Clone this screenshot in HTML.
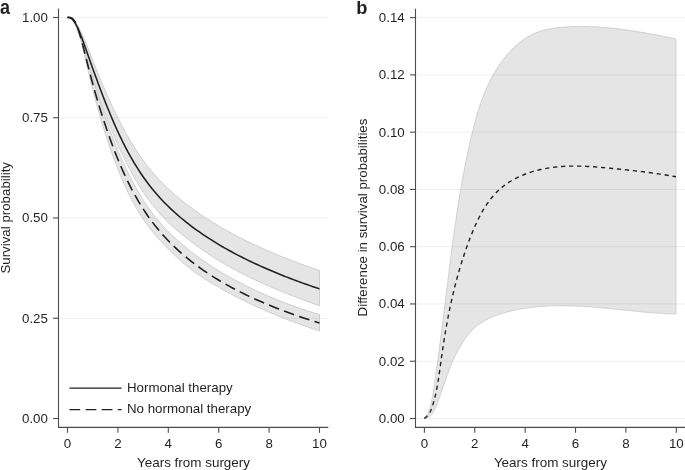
<!DOCTYPE html><html><head><meta charset="utf-8"><style>html,body{margin:0;padding:0;background:#fff;}svg{display:block;will-change:transform;}text{font-family:"Liberation Sans",sans-serif;fill:#231f20;}</style></head><body>
<svg width="685" height="470" viewBox="0 0 685 470">
<rect width="685" height="470" fill="#fff"/>
<path d="M67.50,17.40L67.60,17.40L67.86,17.40L68.12,17.41L68.37,17.42L68.63,17.44L68.89,17.47L69.14,17.50L69.40,17.55L69.66,17.60L69.92,17.67L70.17,17.74L70.43,17.83L70.69,17.93L70.94,18.04L71.20,18.17L71.46,18.30L71.72,18.45L71.97,18.62L72.23,18.79L72.49,18.98L72.75,19.18L73.00,19.39L73.26,19.61L73.52,19.85L73.77,20.10L74.03,20.36L74.29,20.63L74.55,20.92L74.80,21.21L75.06,21.52L75.31,21.84L75.93,22.69L76.55,23.61L77.17,24.59L77.79,25.64L78.41,26.74L79.03,27.89L79.65,29.09L80.27,30.34L80.89,31.63L81.51,32.95L82.13,34.31L82.75,35.71L83.37,37.12L83.99,38.56L84.61,40.03L85.23,41.50L85.85,43.00L86.47,44.51L87.09,46.04L87.71,47.57L88.33,49.12L88.95,50.67L89.57,52.24L90.19,53.80L90.81,55.37L91.43,56.94L92.05,58.51L92.67,60.08L93.29,61.65L93.91,63.22L94.53,64.78L95.15,66.34L95.77,67.89L96.40,69.44L97.02,70.98L97.64,72.51L98.26,74.03L98.88,75.55L99.50,77.06L100.12,78.55L100.74,80.04L101.36,81.52L101.98,82.99L102.60,84.45L103.22,85.91L103.84,87.36L104.46,88.80L105.08,90.23L105.70,91.65L106.32,93.07L106.94,94.48L107.56,95.88L108.18,97.27L108.80,98.65L109.42,100.02L110.04,101.39L110.66,102.74L111.28,104.09L111.90,105.43L112.52,106.75L113.14,108.07L113.76,109.38L114.38,110.68L115.00,111.97L115.62,113.25L116.24,114.52L116.86,115.78L117.48,117.03L118.10,118.27L118.72,119.50L119.34,120.72L119.96,121.94L120.58,123.14L121.20,124.33L121.82,125.51L122.44,126.69L123.06,127.85L123.68,129.00L124.30,130.15L124.92,131.28L125.54,132.41L126.16,133.53L126.78,134.63L127.40,135.73L128.02,136.82L128.64,137.90L129.26,138.97L129.88,140.03L130.50,141.08L131.76,143.18L134.14,147.05L136.51,150.77L138.89,154.35L141.27,157.80L143.64,161.11L146.02,164.28L148.40,167.33L150.77,170.26L153.15,173.08L155.52,175.79L157.90,178.40L160.28,180.92L162.65,183.35L165.03,185.71L167.41,187.99L169.78,190.20L172.16,192.35L174.54,194.44L176.91,196.48L179.29,198.46L181.67,200.39L184.04,202.28L186.42,204.13L188.79,205.93L191.17,207.70L193.55,209.43L195.92,211.13L198.30,212.80L200.68,214.44L203.05,216.04L205.43,217.63L207.81,219.18L210.18,220.70L212.56,222.20L214.94,223.67L217.31,225.12L219.69,226.54L222.07,227.94L224.44,229.31L226.82,230.66L229.19,231.98L231.57,233.28L233.95,234.56L236.32,235.82L238.70,237.06L241.08,238.27L243.45,239.47L245.83,240.65L248.21,241.81L250.58,242.95L252.96,244.08L255.34,245.19L257.71,246.28L260.09,247.36L262.47,248.43L264.84,249.48L267.22,250.52L269.59,251.55L271.97,252.56L274.35,253.56L276.72,254.55L279.10,255.52L281.48,256.49L283.85,257.44L286.23,258.38L288.61,259.31L290.98,260.23L293.36,261.13L295.74,262.03L298.11,262.92L300.49,263.80L302.86,264.66L305.24,265.52L307.62,266.37L309.99,267.21L312.37,268.04L314.75,268.86L317.12,269.68L319.50,270.48L319.50,305.83L317.12,304.99L314.75,304.13L312.37,303.27L309.99,302.40L307.62,301.53L305.24,300.64L302.86,299.75L300.49,298.86L298.11,297.95L295.74,297.05L293.36,296.14L290.98,295.22L288.61,294.29L286.23,293.35L283.85,292.40L281.48,291.44L279.10,290.47L276.72,289.48L274.35,288.48L271.97,287.47L269.59,286.44L267.22,285.41L264.84,284.36L262.47,283.29L260.09,282.21L257.71,281.11L255.34,280.00L252.96,278.88L250.58,277.74L248.21,276.58L245.83,275.40L243.45,274.20L241.08,272.99L238.70,271.76L236.32,270.50L233.95,269.23L231.57,267.93L229.19,266.61L226.82,265.26L224.44,263.89L222.07,262.50L219.69,261.08L217.31,259.63L214.94,258.15L212.56,256.65L210.18,255.11L207.81,253.55L205.43,251.95L203.05,250.32L200.68,248.65L198.30,246.95L195.92,245.21L193.55,243.44L191.17,241.63L188.79,239.81L186.42,237.97L184.04,236.10L181.67,234.20L179.29,232.26L176.91,230.27L174.54,228.23L172.16,226.11L169.78,223.92L167.41,221.64L165.03,219.26L162.65,216.75L160.28,214.15L157.90,211.44L155.52,208.62L153.15,205.68L150.77,202.63L148.40,199.45L146.02,196.13L143.64,192.67L141.27,189.05L138.89,185.29L136.51,181.36L134.14,177.27L131.76,173.02L130.50,170.70L129.88,169.55L129.26,168.38L128.64,167.20L128.02,166.01L127.40,164.81L126.78,163.60L126.16,162.38L125.54,161.14L124.92,159.90L124.30,158.64L123.68,157.37L123.06,156.09L122.44,154.79L121.82,153.49L121.20,152.17L120.58,150.83L119.96,149.49L119.34,148.13L118.72,146.76L118.10,145.38L117.48,143.98L116.86,142.57L116.24,141.15L115.62,139.71L115.00,138.26L114.38,136.79L113.76,135.31L113.14,133.82L112.52,132.31L111.90,130.79L111.28,129.26L110.66,127.71L110.04,126.14L109.42,124.57L108.80,122.98L108.18,121.38L107.56,119.77L106.94,118.14L106.32,116.51L105.70,114.86L105.08,113.20L104.46,111.53L103.84,109.85L103.22,108.16L102.60,106.45L101.98,104.74L101.36,103.01L100.74,101.26L100.12,99.51L99.50,97.74L98.88,95.96L98.26,94.17L97.64,92.37L97.02,90.55L96.40,88.72L95.77,86.88L95.15,85.02L94.53,83.16L93.91,81.28L93.29,79.38L92.67,77.48L92.05,75.56L91.43,73.63L90.81,71.70L90.19,69.75L89.57,67.79L88.95,65.82L88.33,63.84L87.71,61.86L87.09,59.87L86.47,57.88L85.85,55.88L85.23,53.89L84.61,51.90L83.99,49.92L83.37,47.94L82.75,45.98L82.13,44.04L81.51,42.12L80.89,40.22L80.27,38.37L79.65,36.54L79.03,34.77L78.41,33.04L77.79,31.37L77.17,29.77L76.55,28.23L75.93,26.78L75.31,25.41L75.06,24.87L74.80,24.32L74.55,23.79L74.29,23.27L74.03,22.78L73.77,22.31L73.52,21.85L73.26,21.42L73.00,21.02L72.75,20.63L72.49,20.27L72.23,19.93L71.97,19.61L71.72,19.32L71.46,19.05L71.20,18.80L70.94,18.57L70.69,18.37L70.43,18.19L70.17,18.03L69.92,17.89L69.66,17.77L69.40,17.67L69.14,17.59L68.89,17.52L68.63,17.47L68.37,17.44L68.12,17.42L67.86,17.40L67.60,17.40L67.50,17.40Z" fill="#e5e5e5" stroke="none"/>
<path d="M67.50,17.40L67.60,17.40L67.86,17.40L68.12,17.40L68.37,17.40L68.63,17.41L68.89,17.41L69.14,17.42L69.40,17.44L69.66,17.46L69.92,17.48L70.17,17.52L70.43,17.57L70.69,17.62L70.94,17.69L71.20,17.77L71.46,17.86L71.72,17.97L71.97,18.10L72.23,18.24L72.49,18.40L72.75,18.58L73.00,18.78L73.26,19.00L73.52,19.23L73.77,19.49L74.03,19.77L74.29,20.07L74.55,20.40L74.80,20.74L75.06,21.10L75.31,21.50L75.93,22.56L76.55,23.75L77.17,25.08L77.79,26.53L78.41,28.10L79.03,29.78L79.65,31.56L80.27,33.43L80.89,35.39L81.51,37.42L82.13,39.52L82.75,41.66L83.37,43.85L83.99,46.07L84.61,48.32L85.23,50.58L85.85,52.85L86.47,55.12L87.09,57.39L87.71,59.66L88.33,61.92L88.95,64.17L89.57,66.41L90.19,68.64L90.81,70.85L91.43,73.05L92.05,75.23L92.67,77.40L93.29,79.55L93.91,81.68L94.53,83.78L95.15,85.87L95.77,87.95L96.40,90.00L97.02,92.03L97.64,94.04L98.26,96.04L98.88,98.01L99.50,99.97L100.12,101.90L100.74,103.82L101.36,105.72L101.98,107.61L102.60,109.47L103.22,111.32L103.84,113.16L104.46,114.97L105.08,116.78L105.70,118.56L106.32,120.33L106.94,122.09L107.56,123.83L108.18,125.55L108.80,127.26L109.42,128.95L110.04,130.63L110.66,132.29L111.28,133.93L111.90,135.56L112.52,137.17L113.14,138.77L113.76,140.34L114.38,141.91L115.00,143.45L115.62,144.98L116.24,146.50L116.86,148.00L117.48,149.49L118.10,150.96L118.72,152.41L119.34,153.85L119.96,155.28L120.58,156.69L121.20,158.09L121.82,159.47L122.44,160.84L123.06,162.20L123.68,163.54L124.30,164.87L124.92,166.19L125.54,167.49L126.16,168.78L126.78,170.06L127.40,171.33L128.02,172.58L128.64,173.82L129.26,175.05L129.88,176.27L130.50,177.48L131.76,179.90L134.14,184.36L136.51,188.67L138.89,192.83L141.27,196.83L143.64,200.66L146.02,204.33L148.40,207.82L150.77,211.16L153.15,214.33L155.52,217.34L157.90,220.21L160.28,222.97L162.65,225.63L165.03,228.19L167.41,230.67L169.78,233.06L172.16,235.38L174.54,237.63L176.91,239.81L179.29,241.93L181.67,243.99L184.04,246.00L186.42,247.96L188.79,249.87L191.17,251.73L193.55,253.56L195.92,255.34L198.30,257.09L200.68,258.81L203.05,260.49L205.43,262.13L207.81,263.74L210.18,265.32L212.56,266.87L214.94,268.38L217.31,269.87L219.69,271.33L222.07,272.76L224.44,274.16L226.82,275.54L229.19,276.89L231.57,278.22L233.95,279.52L236.32,280.80L238.70,282.05L241.08,283.29L243.45,284.50L245.83,285.69L248.21,286.86L250.58,288.02L252.96,289.15L255.34,290.28L257.71,291.38L260.09,292.47L262.47,293.54L264.84,294.60L267.22,295.63L269.59,296.66L271.97,297.66L274.35,298.66L276.72,299.63L279.10,300.59L281.48,301.53L283.85,302.46L286.23,303.38L288.61,304.27L290.98,305.16L293.36,306.03L295.74,306.88L298.11,307.72L300.49,308.54L302.86,309.34L305.24,310.12L307.62,310.90L309.99,311.66L312.37,312.41L314.75,313.15L317.12,313.87L319.50,314.59L319.50,331.02L317.12,330.21L314.75,329.40L312.37,328.57L309.99,327.74L307.62,326.90L305.24,326.06L302.86,325.20L300.49,324.34L298.11,323.48L295.74,322.61L293.36,321.73L290.98,320.85L288.61,319.96L286.23,319.06L283.85,318.15L281.48,317.23L279.10,316.30L276.72,315.35L274.35,314.39L271.97,313.42L269.59,312.43L267.22,311.42L264.84,310.38L262.47,309.33L260.09,308.26L257.71,307.18L255.34,306.07L252.96,304.96L250.58,303.83L248.21,302.69L245.83,301.54L243.45,300.39L241.08,299.22L238.70,298.04L236.32,296.83L233.95,295.60L231.57,294.36L229.19,293.09L226.82,291.79L224.44,290.47L222.07,289.13L219.69,287.76L217.31,286.37L214.94,284.97L212.56,283.56L210.18,282.15L207.81,280.71L205.43,279.25L203.05,277.75L200.68,276.21L198.30,274.61L195.92,272.95L193.55,271.22L191.17,269.42L188.79,267.56L186.42,265.64L184.04,263.67L181.67,261.64L179.29,259.54L176.91,257.38L174.54,255.16L172.16,252.87L169.78,250.51L167.41,248.09L165.03,245.62L162.65,243.11L160.28,240.53L157.90,237.90L155.52,235.17L153.15,232.36L150.77,229.43L148.40,226.36L146.02,223.14L143.64,219.74L141.27,216.14L138.89,212.32L136.51,208.31L134.14,204.10L131.76,199.69L130.50,197.26L129.88,196.04L129.26,194.81L128.64,193.56L128.02,192.29L127.40,191.01L126.78,189.71L126.16,188.40L125.54,187.07L124.92,185.72L124.30,184.35L123.68,182.97L123.06,181.57L122.44,180.15L121.82,178.72L121.20,177.27L120.58,175.79L119.96,174.30L119.34,172.80L118.72,171.27L118.10,169.73L117.48,168.17L116.86,166.59L116.24,165.00L115.62,163.38L115.00,161.75L114.38,160.10L113.76,158.43L113.14,156.74L112.52,155.04L111.90,153.31L111.28,151.56L110.66,149.80L110.04,148.01L109.42,146.20L108.80,144.38L108.18,142.53L107.56,140.66L106.94,138.78L106.32,136.87L105.70,134.94L105.08,132.99L104.46,131.01L103.84,129.02L103.22,127.00L102.60,124.96L101.98,122.90L101.36,120.81L100.74,118.70L100.12,116.56L99.50,114.39L98.88,112.21L98.26,109.99L97.64,107.75L97.02,105.49L96.40,103.20L95.77,100.88L95.15,98.54L94.53,96.18L93.91,93.79L93.29,91.37L92.67,88.93L92.05,86.47L91.43,83.98L90.81,81.47L90.19,78.95L89.57,76.40L88.95,73.83L88.33,71.25L87.71,68.65L87.09,66.03L86.47,63.40L85.85,60.76L85.23,58.12L84.61,55.48L83.99,52.85L83.37,50.23L82.75,47.65L82.13,45.10L81.51,42.61L80.89,40.17L80.27,37.82L79.65,35.54L79.03,33.37L78.41,31.30L77.79,29.36L77.17,27.55L76.55,25.88L75.93,24.36L75.31,23.00L75.06,22.49L74.80,21.99L74.55,21.52L74.29,21.08L74.03,20.66L73.77,20.28L73.52,19.92L73.26,19.60L73.00,19.30L72.75,19.03L72.49,18.78L72.23,18.56L71.97,18.36L71.72,18.19L71.46,18.04L71.20,17.91L70.94,17.80L70.69,17.70L70.43,17.63L70.17,17.57L69.92,17.52L69.66,17.48L69.40,17.45L69.14,17.43L68.89,17.42L68.63,17.41L68.37,17.40L68.12,17.40L67.86,17.40L67.60,17.40L67.50,17.40Z" fill="#e5e5e5" stroke="none"/>
<line x1="59" y1="17.5" x2="328" y2="17.5" stroke="#000" stroke-opacity="0.065" stroke-width="1"/>
<line x1="59" y1="117.75" x2="328" y2="117.75" stroke="#000" stroke-opacity="0.065" stroke-width="1"/>
<line x1="59" y1="218.0" x2="328" y2="218.0" stroke="#000" stroke-opacity="0.065" stroke-width="1"/>
<line x1="59" y1="318.25" x2="328" y2="318.25" stroke="#000" stroke-opacity="0.065" stroke-width="1"/>
<path d="M67.50,17.40L67.60,17.40L67.86,17.40L68.12,17.41L68.37,17.42L68.63,17.44L68.89,17.47L69.14,17.50L69.40,17.55L69.66,17.60L69.92,17.67L70.17,17.74L70.43,17.83L70.69,17.93L70.94,18.04L71.20,18.17L71.46,18.30L71.72,18.45L71.97,18.62L72.23,18.79L72.49,18.98L72.75,19.18L73.00,19.39L73.26,19.61L73.52,19.85L73.77,20.10L74.03,20.36L74.29,20.63L74.55,20.92L74.80,21.21L75.06,21.52L75.31,21.84L75.93,22.69L76.55,23.61L77.17,24.59L77.79,25.64L78.41,26.74L79.03,27.89L79.65,29.09L80.27,30.34L80.89,31.63L81.51,32.95L82.13,34.31L82.75,35.71L83.37,37.12L83.99,38.56L84.61,40.03L85.23,41.50L85.85,43.00L86.47,44.51L87.09,46.04L87.71,47.57L88.33,49.12L88.95,50.67L89.57,52.24L90.19,53.80L90.81,55.37L91.43,56.94L92.05,58.51L92.67,60.08L93.29,61.65L93.91,63.22L94.53,64.78L95.15,66.34L95.77,67.89L96.40,69.44L97.02,70.98L97.64,72.51L98.26,74.03L98.88,75.55L99.50,77.06L100.12,78.55L100.74,80.04L101.36,81.52L101.98,82.99L102.60,84.45L103.22,85.91L103.84,87.36L104.46,88.80L105.08,90.23L105.70,91.65L106.32,93.07L106.94,94.48L107.56,95.88L108.18,97.27L108.80,98.65L109.42,100.02L110.04,101.39L110.66,102.74L111.28,104.09L111.90,105.43L112.52,106.75L113.14,108.07L113.76,109.38L114.38,110.68L115.00,111.97L115.62,113.25L116.24,114.52L116.86,115.78L117.48,117.03L118.10,118.27L118.72,119.50L119.34,120.72L119.96,121.94L120.58,123.14L121.20,124.33L121.82,125.51L122.44,126.69L123.06,127.85L123.68,129.00L124.30,130.15L124.92,131.28L125.54,132.41L126.16,133.53L126.78,134.63L127.40,135.73L128.02,136.82L128.64,137.90L129.26,138.97L129.88,140.03L130.50,141.08L131.76,143.18L134.14,147.05L136.51,150.77L138.89,154.35L141.27,157.80L143.64,161.11L146.02,164.28L148.40,167.33L150.77,170.26L153.15,173.08L155.52,175.79L157.90,178.40L160.28,180.92L162.65,183.35L165.03,185.71L167.41,187.99L169.78,190.20L172.16,192.35L174.54,194.44L176.91,196.48L179.29,198.46L181.67,200.39L184.04,202.28L186.42,204.13L188.79,205.93L191.17,207.70L193.55,209.43L195.92,211.13L198.30,212.80L200.68,214.44L203.05,216.04L205.43,217.63L207.81,219.18L210.18,220.70L212.56,222.20L214.94,223.67L217.31,225.12L219.69,226.54L222.07,227.94L224.44,229.31L226.82,230.66L229.19,231.98L231.57,233.28L233.95,234.56L236.32,235.82L238.70,237.06L241.08,238.27L243.45,239.47L245.83,240.65L248.21,241.81L250.58,242.95L252.96,244.08L255.34,245.19L257.71,246.28L260.09,247.36L262.47,248.43L264.84,249.48L267.22,250.52L269.59,251.55L271.97,252.56L274.35,253.56L276.72,254.55L279.10,255.52L281.48,256.49L283.85,257.44L286.23,258.38L288.61,259.31L290.98,260.23L293.36,261.13L295.74,262.03L298.11,262.92L300.49,263.80L302.86,264.66L305.24,265.52L307.62,266.37L309.99,267.21L312.37,268.04L314.75,268.86L317.12,269.68L319.50,270.48" fill="none" stroke="#cecece" stroke-width="1"/>
<path d="M67.50,17.40L67.60,17.40L67.86,17.40L68.12,17.42L68.37,17.44L68.63,17.47L68.89,17.52L69.14,17.59L69.40,17.67L69.66,17.77L69.92,17.89L70.17,18.03L70.43,18.19L70.69,18.37L70.94,18.57L71.20,18.80L71.46,19.05L71.72,19.32L71.97,19.61L72.23,19.93L72.49,20.27L72.75,20.63L73.00,21.02L73.26,21.42L73.52,21.85L73.77,22.31L74.03,22.78L74.29,23.27L74.55,23.79L74.80,24.32L75.06,24.87L75.31,25.41L75.93,26.78L76.55,28.23L77.17,29.77L77.79,31.37L78.41,33.04L79.03,34.77L79.65,36.54L80.27,38.37L80.89,40.22L81.51,42.12L82.13,44.04L82.75,45.98L83.37,47.94L83.99,49.92L84.61,51.90L85.23,53.89L85.85,55.88L86.47,57.88L87.09,59.87L87.71,61.86L88.33,63.84L88.95,65.82L89.57,67.79L90.19,69.75L90.81,71.70L91.43,73.63L92.05,75.56L92.67,77.48L93.29,79.38L93.91,81.28L94.53,83.16L95.15,85.02L95.77,86.88L96.40,88.72L97.02,90.55L97.64,92.37L98.26,94.17L98.88,95.96L99.50,97.74L100.12,99.51L100.74,101.26L101.36,103.01L101.98,104.74L102.60,106.45L103.22,108.16L103.84,109.85L104.46,111.53L105.08,113.20L105.70,114.86L106.32,116.51L106.94,118.14L107.56,119.77L108.18,121.38L108.80,122.98L109.42,124.57L110.04,126.14L110.66,127.71L111.28,129.26L111.90,130.79L112.52,132.31L113.14,133.82L113.76,135.31L114.38,136.79L115.00,138.26L115.62,139.71L116.24,141.15L116.86,142.57L117.48,143.98L118.10,145.38L118.72,146.76L119.34,148.13L119.96,149.49L120.58,150.83L121.20,152.17L121.82,153.49L122.44,154.79L123.06,156.09L123.68,157.37L124.30,158.64L124.92,159.90L125.54,161.14L126.16,162.38L126.78,163.60L127.40,164.81L128.02,166.01L128.64,167.20L129.26,168.38L129.88,169.55L130.50,170.70L131.76,173.02L134.14,177.27L136.51,181.36L138.89,185.29L141.27,189.05L143.64,192.67L146.02,196.13L148.40,199.45L150.77,202.63L153.15,205.68L155.52,208.62L157.90,211.44L160.28,214.15L162.65,216.75L165.03,219.26L167.41,221.64L169.78,223.92L172.16,226.11L174.54,228.23L176.91,230.27L179.29,232.26L181.67,234.20L184.04,236.10L186.42,237.97L188.79,239.81L191.17,241.63L193.55,243.44L195.92,245.21L198.30,246.95L200.68,248.65L203.05,250.32L205.43,251.95L207.81,253.55L210.18,255.11L212.56,256.65L214.94,258.15L217.31,259.63L219.69,261.08L222.07,262.50L224.44,263.89L226.82,265.26L229.19,266.61L231.57,267.93L233.95,269.23L236.32,270.50L238.70,271.76L241.08,272.99L243.45,274.20L245.83,275.40L248.21,276.58L250.58,277.74L252.96,278.88L255.34,280.00L257.71,281.11L260.09,282.21L262.47,283.29L264.84,284.36L267.22,285.41L269.59,286.44L271.97,287.47L274.35,288.48L276.72,289.48L279.10,290.47L281.48,291.44L283.85,292.40L286.23,293.35L288.61,294.29L290.98,295.22L293.36,296.14L295.74,297.05L298.11,297.95L300.49,298.86L302.86,299.75L305.24,300.64L307.62,301.53L309.99,302.40L312.37,303.27L314.75,304.13L317.12,304.99L319.50,305.83" fill="none" stroke="#cecece" stroke-width="1"/>
<path d="M67.50,17.40L67.60,17.40L67.86,17.40L68.12,17.40L68.37,17.40L68.63,17.41L68.89,17.41L69.14,17.42L69.40,17.44L69.66,17.46L69.92,17.48L70.17,17.52L70.43,17.57L70.69,17.62L70.94,17.69L71.20,17.77L71.46,17.86L71.72,17.97L71.97,18.10L72.23,18.24L72.49,18.40L72.75,18.58L73.00,18.78L73.26,19.00L73.52,19.23L73.77,19.49L74.03,19.77L74.29,20.07L74.55,20.40L74.80,20.74L75.06,21.10L75.31,21.50L75.93,22.56L76.55,23.75L77.17,25.08L77.79,26.53L78.41,28.10L79.03,29.78L79.65,31.56L80.27,33.43L80.89,35.39L81.51,37.42L82.13,39.52L82.75,41.66L83.37,43.85L83.99,46.07L84.61,48.32L85.23,50.58L85.85,52.85L86.47,55.12L87.09,57.39L87.71,59.66L88.33,61.92L88.95,64.17L89.57,66.41L90.19,68.64L90.81,70.85L91.43,73.05L92.05,75.23L92.67,77.40L93.29,79.55L93.91,81.68L94.53,83.78L95.15,85.87L95.77,87.95L96.40,90.00L97.02,92.03L97.64,94.04L98.26,96.04L98.88,98.01L99.50,99.97L100.12,101.90L100.74,103.82L101.36,105.72L101.98,107.61L102.60,109.47L103.22,111.32L103.84,113.16L104.46,114.97L105.08,116.78L105.70,118.56L106.32,120.33L106.94,122.09L107.56,123.83L108.18,125.55L108.80,127.26L109.42,128.95L110.04,130.63L110.66,132.29L111.28,133.93L111.90,135.56L112.52,137.17L113.14,138.77L113.76,140.34L114.38,141.91L115.00,143.45L115.62,144.98L116.24,146.50L116.86,148.00L117.48,149.49L118.10,150.96L118.72,152.41L119.34,153.85L119.96,155.28L120.58,156.69L121.20,158.09L121.82,159.47L122.44,160.84L123.06,162.20L123.68,163.54L124.30,164.87L124.92,166.19L125.54,167.49L126.16,168.78L126.78,170.06L127.40,171.33L128.02,172.58L128.64,173.82L129.26,175.05L129.88,176.27L130.50,177.48L131.76,179.90L134.14,184.36L136.51,188.67L138.89,192.83L141.27,196.83L143.64,200.66L146.02,204.33L148.40,207.82L150.77,211.16L153.15,214.33L155.52,217.34L157.90,220.21L160.28,222.97L162.65,225.63L165.03,228.19L167.41,230.67L169.78,233.06L172.16,235.38L174.54,237.63L176.91,239.81L179.29,241.93L181.67,243.99L184.04,246.00L186.42,247.96L188.79,249.87L191.17,251.73L193.55,253.56L195.92,255.34L198.30,257.09L200.68,258.81L203.05,260.49L205.43,262.13L207.81,263.74L210.18,265.32L212.56,266.87L214.94,268.38L217.31,269.87L219.69,271.33L222.07,272.76L224.44,274.16L226.82,275.54L229.19,276.89L231.57,278.22L233.95,279.52L236.32,280.80L238.70,282.05L241.08,283.29L243.45,284.50L245.83,285.69L248.21,286.86L250.58,288.02L252.96,289.15L255.34,290.28L257.71,291.38L260.09,292.47L262.47,293.54L264.84,294.60L267.22,295.63L269.59,296.66L271.97,297.66L274.35,298.66L276.72,299.63L279.10,300.59L281.48,301.53L283.85,302.46L286.23,303.38L288.61,304.27L290.98,305.16L293.36,306.03L295.74,306.88L298.11,307.72L300.49,308.54L302.86,309.34L305.24,310.12L307.62,310.90L309.99,311.66L312.37,312.41L314.75,313.15L317.12,313.87L319.50,314.59" fill="none" stroke="#cecece" stroke-width="1"/>
<path d="M67.50,17.40L67.60,17.40L67.86,17.40L68.12,17.40L68.37,17.40L68.63,17.41L68.89,17.42L69.14,17.43L69.40,17.45L69.66,17.48L69.92,17.52L70.17,17.57L70.43,17.63L70.69,17.70L70.94,17.80L71.20,17.91L71.46,18.04L71.72,18.19L71.97,18.36L72.23,18.56L72.49,18.78L72.75,19.03L73.00,19.30L73.26,19.60L73.52,19.92L73.77,20.28L74.03,20.66L74.29,21.08L74.55,21.52L74.80,21.99L75.06,22.49L75.31,23.00L75.93,24.36L76.55,25.88L77.17,27.55L77.79,29.36L78.41,31.30L79.03,33.37L79.65,35.54L80.27,37.82L80.89,40.17L81.51,42.61L82.13,45.10L82.75,47.65L83.37,50.23L83.99,52.85L84.61,55.48L85.23,58.12L85.85,60.76L86.47,63.40L87.09,66.03L87.71,68.65L88.33,71.25L88.95,73.83L89.57,76.40L90.19,78.95L90.81,81.47L91.43,83.98L92.05,86.47L92.67,88.93L93.29,91.37L93.91,93.79L94.53,96.18L95.15,98.54L95.77,100.88L96.40,103.20L97.02,105.49L97.64,107.75L98.26,109.99L98.88,112.21L99.50,114.39L100.12,116.56L100.74,118.70L101.36,120.81L101.98,122.90L102.60,124.96L103.22,127.00L103.84,129.02L104.46,131.01L105.08,132.99L105.70,134.94L106.32,136.87L106.94,138.78L107.56,140.66L108.18,142.53L108.80,144.38L109.42,146.20L110.04,148.01L110.66,149.80L111.28,151.56L111.90,153.31L112.52,155.04L113.14,156.74L113.76,158.43L114.38,160.10L115.00,161.75L115.62,163.38L116.24,165.00L116.86,166.59L117.48,168.17L118.10,169.73L118.72,171.27L119.34,172.80L119.96,174.30L120.58,175.79L121.20,177.27L121.82,178.72L122.44,180.15L123.06,181.57L123.68,182.97L124.30,184.35L124.92,185.72L125.54,187.07L126.16,188.40L126.78,189.71L127.40,191.01L128.02,192.29L128.64,193.56L129.26,194.81L129.88,196.04L130.50,197.26L131.76,199.69L134.14,204.10L136.51,208.31L138.89,212.32L141.27,216.14L143.64,219.74L146.02,223.14L148.40,226.36L150.77,229.43L153.15,232.36L155.52,235.17L157.90,237.90L160.28,240.53L162.65,243.11L165.03,245.62L167.41,248.09L169.78,250.51L172.16,252.87L174.54,255.16L176.91,257.38L179.29,259.54L181.67,261.64L184.04,263.67L186.42,265.64L188.79,267.56L191.17,269.42L193.55,271.22L195.92,272.95L198.30,274.61L200.68,276.21L203.05,277.75L205.43,279.25L207.81,280.71L210.18,282.15L212.56,283.56L214.94,284.97L217.31,286.37L219.69,287.76L222.07,289.13L224.44,290.47L226.82,291.79L229.19,293.09L231.57,294.36L233.95,295.60L236.32,296.83L238.70,298.04L241.08,299.22L243.45,300.39L245.83,301.54L248.21,302.69L250.58,303.83L252.96,304.96L255.34,306.07L257.71,307.18L260.09,308.26L262.47,309.33L264.84,310.38L267.22,311.42L269.59,312.43L271.97,313.42L274.35,314.39L276.72,315.35L279.10,316.30L281.48,317.23L283.85,318.15L286.23,319.06L288.61,319.96L290.98,320.85L293.36,321.73L295.74,322.61L298.11,323.48L300.49,324.34L302.86,325.20L305.24,326.06L307.62,326.90L309.99,327.74L312.37,328.57L314.75,329.40L317.12,330.21L319.50,331.02" fill="none" stroke="#cecece" stroke-width="1"/>
<line x1="319.5" y1="270.48" x2="319.5" y2="305.83" stroke="#cecece" stroke-width="1"/>
<line x1="319.5" y1="314.59" x2="319.5" y2="331.02" stroke="#cecece" stroke-width="1"/>
<path d="M67.50,17.40L67.60,17.40L67.86,17.40L68.12,17.40L68.37,17.40L68.63,17.41L68.89,17.42L69.14,17.43L69.40,17.44L69.66,17.47L69.92,17.50L70.17,17.55L70.43,17.60L70.69,17.67L70.94,17.75L71.20,17.85L71.46,17.97L71.72,18.10L71.97,18.25L72.23,18.43L72.49,18.62L72.75,18.84L73.00,19.08L73.26,19.35L73.52,19.64L73.77,19.96L74.03,20.30L74.29,20.66L74.55,21.06L74.80,21.48L75.06,21.92L75.31,22.38L75.93,23.62L76.55,25.01L77.17,26.54L77.79,28.20L78.41,29.99L79.03,31.90L79.65,33.91L80.27,36.01L80.89,38.20L81.51,40.46L82.13,42.78L82.75,45.14L83.37,47.55L83.99,49.98L84.61,52.44L85.23,54.90L85.85,57.36L86.47,59.82L87.09,62.27L87.71,64.71L88.33,67.13L88.95,69.54L89.57,71.94L90.19,74.31L90.81,76.66L91.43,78.99L92.05,81.29L92.67,83.58L93.29,85.83L93.91,88.07L94.53,90.28L95.15,92.47L95.77,94.63L96.40,96.77L97.02,98.89L97.64,100.99L98.26,103.06L98.88,105.11L99.50,107.14L100.12,109.14L100.74,111.13L101.36,113.10L101.98,115.05L102.60,116.98L103.22,118.89L103.84,120.78L104.46,122.66L105.08,124.51L105.70,126.36L106.32,128.18L106.94,129.99L107.56,131.79L108.18,133.56L108.80,135.32L109.42,137.07L110.04,138.80L110.66,140.51L111.28,142.20L111.90,143.88L112.52,145.54L113.14,147.19L113.76,148.82L114.38,150.43L115.00,152.02L115.62,153.60L116.24,155.17L116.86,156.71L117.48,158.24L118.10,159.76L118.72,161.26L119.34,162.74L119.96,164.21L120.58,165.66L121.20,167.10L121.82,168.52L122.44,169.92L123.06,171.31L123.68,172.69L124.30,174.05L124.92,175.39L125.54,176.72L126.16,178.04L126.78,179.34L127.40,180.63L128.02,181.90L128.64,183.16L129.26,184.40L129.88,185.63L130.50,186.85L131.76,189.28L134.14,193.72L136.51,197.97L138.89,202.04L141.27,205.94L143.64,209.67L146.02,213.25L148.40,216.67L150.77,219.96L153.15,223.12L155.52,226.16L157.90,229.09L160.28,231.91L162.65,234.63L165.03,237.25L167.41,239.79L169.78,242.24L172.16,244.62L174.54,246.92L176.91,249.15L179.29,251.32L181.67,253.42L184.04,255.46L186.42,257.45L188.79,259.39L191.17,261.27L193.55,263.11L195.92,264.90L198.30,266.65L200.68,268.36L203.05,270.03L205.43,271.66L207.81,273.26L210.18,274.81L212.56,276.34L214.94,277.83L217.31,279.29L219.69,280.72L222.07,282.12L224.44,283.49L226.82,284.84L229.19,286.16L231.57,287.45L233.95,288.72L236.32,289.97L238.70,291.19L241.08,292.39L243.45,293.57L245.83,294.73L248.21,295.87L250.58,296.99L252.96,298.09L255.34,299.17L257.71,300.24L260.09,301.28L262.47,302.32L264.84,303.33L267.22,304.33L269.59,305.31L271.97,306.28L274.35,307.23L276.72,308.17L279.10,309.10L281.48,310.01L283.85,310.91L286.23,311.80L288.61,312.67L290.98,313.54L293.36,314.39L295.74,315.23L298.11,316.06L300.49,316.87L302.86,317.68L305.24,318.48L307.62,319.26L309.99,320.04L312.37,320.81L314.75,321.57L317.12,322.31L319.50,323.05" fill="none" stroke="#231f20" stroke-width="1.6" stroke-dasharray="10.7 5.4"/>
<path d="M67.50,17.40L67.60,17.40L67.86,17.40L68.12,17.41L68.37,17.43L68.63,17.46L68.89,17.49L69.14,17.54L69.40,17.60L69.66,17.67L69.92,17.76L70.17,17.87L70.43,17.98L70.69,18.12L70.94,18.27L71.20,18.44L71.46,18.62L71.72,18.82L71.97,19.04L72.23,19.28L72.49,19.53L72.75,19.80L73.00,20.08L73.26,20.39L73.52,20.70L73.77,21.04L74.03,21.39L74.29,21.76L74.55,22.14L74.80,22.54L75.06,22.95L75.31,23.37L75.93,24.45L76.55,25.62L77.17,26.85L77.79,28.16L78.41,29.52L79.03,30.94L79.65,32.41L80.27,33.93L80.89,35.49L81.51,37.09L82.13,38.71L82.75,40.37L83.37,42.05L83.99,43.75L84.61,45.47L85.23,47.20L85.85,48.94L86.47,50.68L87.09,52.44L87.71,54.19L88.33,55.95L88.95,57.71L89.57,59.47L90.19,61.23L90.81,62.99L91.43,64.74L92.05,66.49L92.67,68.24L93.29,69.98L93.91,71.71L94.53,73.44L95.15,75.16L95.77,76.87L96.40,78.58L97.02,80.28L97.64,81.96L98.26,83.65L98.88,85.32L99.50,86.98L100.12,88.64L100.74,90.28L101.36,91.92L101.98,93.54L102.60,95.16L103.22,96.76L103.84,98.36L104.46,99.95L105.08,101.53L105.70,103.09L106.32,104.65L106.94,106.20L107.56,107.74L108.18,109.27L108.80,110.78L109.42,112.29L110.04,113.78L110.66,115.26L111.28,116.74L111.90,118.20L112.52,119.65L113.14,121.08L113.76,122.51L114.38,123.92L115.00,125.33L115.62,126.72L116.24,128.10L116.86,129.46L117.48,130.82L118.10,132.16L118.72,133.49L119.34,134.81L119.96,136.12L120.58,137.41L121.20,138.69L121.82,139.97L122.44,141.22L123.06,142.47L123.68,143.71L124.30,144.93L124.92,146.14L125.54,147.34L126.16,148.53L126.78,149.71L127.40,150.87L128.02,152.02L128.64,153.17L129.26,154.30L129.88,155.42L130.50,156.52L131.76,158.74L134.14,162.80L136.51,166.69L138.89,170.44L141.27,174.03L143.64,177.48L146.02,180.79L148.40,183.96L150.77,187.02L153.15,189.96L155.52,192.79L157.90,195.52L160.28,198.16L162.65,200.71L165.03,203.17L167.41,205.56L169.78,207.87L172.16,210.11L174.54,212.29L176.91,214.41L179.29,216.47L181.67,218.48L184.04,220.43L186.42,222.34L188.79,224.20L191.17,226.01L193.55,227.79L195.92,229.53L198.30,231.23L200.68,232.89L203.05,234.52L205.43,236.12L207.81,237.68L210.18,239.21L212.56,240.72L214.94,242.19L217.31,243.64L219.69,245.06L222.07,246.46L224.44,247.83L226.82,249.18L229.19,250.50L231.57,251.80L233.95,253.08L236.32,254.34L238.70,255.58L241.08,256.80L243.45,258.00L245.83,259.18L248.21,260.34L250.58,261.48L252.96,262.61L255.34,263.72L257.71,264.82L260.09,265.90L262.47,266.97L264.84,268.02L267.22,269.05L269.59,270.08L271.97,271.08L274.35,272.08L276.72,273.06L279.10,274.03L281.48,274.99L283.85,275.94L286.23,276.87L288.61,277.79L290.98,278.71L293.36,279.61L295.74,280.50L298.11,281.38L300.49,282.25L302.86,283.11L305.24,283.96L307.62,284.80L309.99,285.63L312.37,286.46L314.75,287.27L317.12,288.08L319.50,288.88" fill="none" stroke="#231f20" stroke-width="1.55"/>
<path d="M58.5,8.5V427.4H328.3" fill="none" stroke="#4d4d4d" stroke-width="1.1" stroke-linejoin="round"/>
<line x1="53" y1="17.5" x2="58.5" y2="17.5" stroke="#4d4d4d" stroke-width="1.1"/>
<text x="47.9" y="21.90" font-size="13.3" text-anchor="end">1.00</text>
<line x1="53" y1="117.75" x2="58.5" y2="117.75" stroke="#4d4d4d" stroke-width="1.1"/>
<text x="47.9" y="122.15" font-size="13.3" text-anchor="end">0.75</text>
<line x1="53" y1="218.0" x2="58.5" y2="218.0" stroke="#4d4d4d" stroke-width="1.1"/>
<text x="47.9" y="222.40" font-size="13.3" text-anchor="end">0.50</text>
<line x1="53" y1="318.25" x2="58.5" y2="318.25" stroke="#4d4d4d" stroke-width="1.1"/>
<text x="47.9" y="322.65" font-size="13.3" text-anchor="end">0.25</text>
<line x1="53" y1="418.5" x2="58.5" y2="418.5" stroke="#4d4d4d" stroke-width="1.1"/>
<text x="47.9" y="422.90" font-size="13.3" text-anchor="end">0.00</text>
<line x1="67.5" y1="427.4" x2="67.5" y2="432.8" stroke="#4d4d4d" stroke-width="1.1"/>
<text x="67.50" y="448.2" font-size="13.3" text-anchor="middle">0</text>
<line x1="117.9" y1="427.4" x2="117.9" y2="432.8" stroke="#4d4d4d" stroke-width="1.1"/>
<text x="117.90" y="448.2" font-size="13.3" text-anchor="middle">2</text>
<line x1="168.3" y1="427.4" x2="168.3" y2="432.8" stroke="#4d4d4d" stroke-width="1.1"/>
<text x="168.30" y="448.2" font-size="13.3" text-anchor="middle">4</text>
<line x1="218.7" y1="427.4" x2="218.7" y2="432.8" stroke="#4d4d4d" stroke-width="1.1"/>
<text x="218.70" y="448.2" font-size="13.3" text-anchor="middle">6</text>
<line x1="269.1" y1="427.4" x2="269.1" y2="432.8" stroke="#4d4d4d" stroke-width="1.1"/>
<text x="269.10" y="448.2" font-size="13.3" text-anchor="middle">8</text>
<line x1="319.5" y1="427.4" x2="319.5" y2="432.8" stroke="#4d4d4d" stroke-width="1.1"/>
<text x="319.50" y="448.2" font-size="13.3" text-anchor="middle">10</text>
<text x="193.5" y="466.8" font-size="13.45" text-anchor="middle">Years from surgery</text>
<text transform="translate(10.3,217.8) rotate(-90)" font-size="13.3" text-anchor="middle">Survival probability</text>
<line x1="69.5" y1="388.1" x2="121.6" y2="388.1" stroke="#231f20" stroke-width="1.25"/>
<line x1="69.5" y1="409.6" x2="121.6" y2="409.6" stroke="#231f20" stroke-width="1.25" stroke-dasharray="10.7 5.4"/>
<text x="127.0" y="392.3" font-size="13.3">Hormonal therapy</text>
<text x="127.0" y="413.2" font-size="13.3">No hormonal therapy</text>
<text transform="translate(0.1,13.6) scale(0.92,1)" font-size="19.6" font-weight="bold">a</text>
<path d="M424.21,418.41L425.46,417.04L426.55,415.59L427.51,414.05L428.33,412.44L429.05,410.77L429.67,409.05L430.22,407.29L430.70,405.51L431.14,403.71L431.55,401.90L431.93,400.08L432.28,398.26L432.61,396.43L432.92,394.60L433.22,392.76L433.50,390.92L433.77,389.08L434.04,387.23L434.31,385.39L434.58,383.55L434.84,381.70L435.11,379.86L435.37,378.02L435.63,376.18L435.89,374.33L436.15,372.49L436.41,370.65L436.66,368.81L436.92,366.96L437.17,365.12L437.42,363.28L437.67,361.44L437.92,359.59L438.17,357.75L438.42,355.91L438.66,354.07L438.91,352.23L439.16,350.38L439.40,348.54L439.64,346.70L439.88,344.86L440.12,343.02L440.36,341.17L440.60,339.33L440.84,337.49L441.08,335.65L441.32,333.81L441.55,331.97L441.79,330.13L442.02,328.28L442.26,326.44L442.49,324.60L442.72,322.76L442.95,320.92L443.18,319.08L443.42,317.24L443.65,315.40L443.88,313.56L444.11,311.72L444.33,309.88L444.56,308.04L444.79,306.20L445.02,304.36L445.25,302.52L445.47,300.68L445.70,298.84L445.93,297.00L446.15,295.16L446.38,293.32L446.61,291.48L446.83,289.64L447.06,287.80L447.29,285.96L447.51,284.12L447.74,282.29L447.97,280.45L448.19,278.61L448.42,276.77L448.65,274.93L448.88,273.09L449.11,271.26L449.34,269.42L449.57,267.58L449.80,265.74L450.03,263.90L450.26,262.07L450.50,260.23L450.73,258.39L450.97,256.56L451.20,254.72L451.44,252.88L451.68,251.05L451.92,249.21L452.16,247.37L452.41,245.54L452.65,243.70L452.90,241.87L453.14,240.03L453.39,238.20L453.64,236.36L453.89,234.53L454.15,232.69L454.40,230.86L454.66,229.02L454.92,227.19L455.18,225.35L455.45,223.52L455.71,221.69L455.98,219.85L456.25,218.02L456.52,216.19L456.80,214.35L457.07,212.52L457.35,210.69L457.63,208.86L457.92,207.03L458.21,205.19L458.50,203.36L458.79,201.53L459.08,199.70L459.38,197.87L459.68,196.04L459.99,194.21L460.29,192.38L460.60,190.55L460.92,188.72L461.23,186.89L461.55,185.06L461.88,183.23L462.20,181.40L462.53,179.58L462.87,177.75L463.20,175.92L463.54,174.09L463.89,172.27L464.24,170.44L464.59,168.61L464.94,166.79L465.30,164.96L465.66,163.13L466.03,161.31L466.40,159.48L466.78,157.66L467.16,155.83L467.54,154.01L467.93,152.19L468.32,150.36L468.72,148.54L469.12,146.71L469.53,144.89L469.94,143.07L470.35,141.25L470.77,139.42L471.20,137.60L471.63,135.78L472.06,133.96L472.50,132.14L472.95,130.33L473.40,128.51L473.87,126.70L474.33,124.88L474.81,123.08L475.30,121.27L475.79,119.47L476.30,117.67L476.82,115.87L477.34,114.08L477.88,112.29L478.43,110.51L478.99,108.73L479.56,106.96L480.14,105.20L480.74,103.44L481.35,101.68L481.98,99.93L482.62,98.19L483.27,96.46L483.94,94.73L484.63,93.02L485.33,91.30L486.05,89.60L486.79,87.91L487.54,86.22L488.31,84.55L489.10,82.88L489.91,81.23L490.74,79.58L491.59,77.94L492.46,76.32L493.35,74.70L494.26,73.10L495.19,71.51L496.14,69.93L497.12,68.36L498.12,66.81L499.14,65.26L500.19,63.73L501.26,62.22L502.36,60.72L503.48,59.23L504.62,57.76L505.79,56.31L506.99,54.88L508.21,53.47L509.45,52.08L510.72,50.72L512.02,49.38L513.34,48.07L514.68,46.79L516.05,45.54L517.44,44.33L518.86,43.14L520.31,42.00L521.77,40.89L523.27,39.81L524.79,38.78L526.33,37.79L527.90,36.84L529.49,35.94L531.11,35.08L532.76,34.27L534.43,33.50L536.12,32.79L537.84,32.13L539.59,31.52L541.35,30.96L543.14,30.45L544.94,29.97L546.76,29.54L548.60,29.15L550.45,28.80L552.31,28.48L554.18,28.19L556.05,27.94L557.94,27.71L559.82,27.51L561.71,27.34L563.60,27.18L565.49,27.05L567.38,26.93L569.26,26.83L571.14,26.75L573.02,26.68L574.89,26.63L576.76,26.59L578.62,26.56L580.48,26.55L582.34,26.55L584.19,26.57L586.05,26.60L587.90,26.64L589.74,26.69L591.59,26.76L593.43,26.84L595.27,26.93L597.11,27.04L598.95,27.15L600.79,27.28L602.63,27.41L604.46,27.56L606.30,27.72L608.13,27.89L609.96,28.06L611.80,28.25L613.63,28.45L615.47,28.65L617.30,28.87L619.14,29.09L620.97,29.32L622.81,29.56L624.65,29.81L626.49,30.06L628.33,30.32L630.17,30.59L632.02,30.86L633.86,31.14L635.71,31.43L637.56,31.72L639.40,32.02L641.25,32.33L643.09,32.64L644.94,32.96L646.78,33.28L648.62,33.61L650.46,33.94L652.30,34.28L654.14,34.62L655.97,34.96L657.80,35.32L659.63,35.67L661.45,36.03L663.27,36.39L665.09,36.76L666.90,37.13L668.70,37.50L670.51,37.88L672.30,38.26L674.09,38.64L675.88,39.03L675.60,313.98L674.59,313.95L673.58,313.92L672.57,313.89L671.55,313.85L670.54,313.81L669.52,313.77L668.51,313.73L667.49,313.68L666.47,313.63L665.45,313.57L664.43,313.52L663.41,313.46L662.39,313.40L661.36,313.34L660.34,313.27L659.31,313.21L658.29,313.14L657.26,313.06L656.23,312.99L655.20,312.92L654.17,312.84L653.14,312.76L652.11,312.68L651.08,312.59L650.04,312.51L649.01,312.42L647.97,312.34L646.94,312.25L645.90,312.16L644.86,312.06L643.83,311.97L642.79,311.88L641.75,311.78L640.71,311.68L639.67,311.59L638.63,311.49L637.58,311.39L636.54,311.29L635.50,311.19L634.45,311.08L633.41,310.98L632.36,310.88L631.32,310.77L630.27,310.67L629.23,310.56L628.18,310.46L627.13,310.35L626.08,310.25L625.03,310.14L623.98,310.03L622.94,309.93L621.89,309.82L620.83,309.72L619.78,309.61L618.73,309.50L617.68,309.40L616.63,309.29L615.58,309.19L614.52,309.08L613.47,308.98L612.42,308.87L611.37,308.77L610.31,308.67L609.26,308.57L608.20,308.47L607.15,308.37L606.10,308.27L605.04,308.17L603.99,308.07L602.93,307.97L601.88,307.88L600.82,307.79L599.77,307.69L598.71,307.60L597.66,307.51L596.60,307.42L595.54,307.34L594.49,307.25L593.43,307.17L592.38,307.09L591.32,307.01L590.27,306.93L589.21,306.85L588.16,306.78L587.10,306.70L586.05,306.63L584.99,306.56L583.94,306.50L582.88,306.43L581.83,306.37L580.77,306.31L579.72,306.26L578.66,306.20L577.61,306.15L576.56,306.10L575.50,306.05L574.45,306.01L573.40,305.97L572.34,305.93L571.29,305.90L570.24,305.86L569.19,305.83L568.14,305.81L567.09,305.78L566.03,305.77L564.98,305.75L563.93,305.74L562.89,305.73L561.84,305.72L560.79,305.72L559.74,305.72L558.69,305.72L557.65,305.73L556.60,305.74L555.55,305.76L554.51,305.78L553.46,305.80L552.42,305.83L551.38,305.86L550.33,305.90L549.29,305.94L548.25,305.98L547.21,306.03L546.17,306.08L545.13,306.14L544.09,306.20L543.05,306.27L542.01,306.34L540.97,306.42L539.94,306.50L538.90,306.58L537.87,306.67L536.83,306.77L535.80,306.87L534.77,306.97L533.74,307.09L532.71,307.20L531.68,307.32L530.65,307.45L529.62,307.58L528.59,307.72L527.57,307.86L526.54,308.01L525.52,308.16L524.50,308.32L523.48,308.49L522.45,308.66L521.43,308.83L520.42,309.02L519.40,309.20L518.38,309.40L517.36,309.60L516.35,309.81L515.34,310.02L514.32,310.24L513.31,310.46L512.30,310.70L511.29,310.93L510.29,311.18L509.28,311.43L508.28,311.69L507.27,311.95L506.27,312.23L505.27,312.50L504.27,312.79L503.27,313.08L502.27,313.38L501.28,313.69L500.28,314.01L499.29,314.33L498.31,314.66L497.32,315.00L496.34,315.35L495.37,315.72L494.40,316.09L493.43,316.47L492.47,316.86L491.52,317.27L490.57,317.68L489.63,318.11L488.69,318.55L487.76,319.00L486.84,319.47L485.93,319.95L485.03,320.44L484.13,320.95L483.24,321.47L482.37,322.00L481.50,322.56L480.64,323.12L479.80,323.71L478.96,324.31L478.14,324.92L477.33,325.56L476.53,326.21L475.74,326.87L474.96,327.56L474.19,328.25L473.44,328.97L472.70,329.70L471.96,330.44L471.24,331.20L470.53,331.97L469.83,332.75L469.15,333.54L468.47,334.35L467.80,335.17L467.14,336.00L466.50,336.84L465.86,337.69L465.23,338.55L464.62,339.42L464.01,340.30L463.41,341.18L462.82,342.08L462.25,342.98L461.68,343.88L461.12,344.80L460.57,345.72L460.03,346.64L459.49,347.57L458.97,348.51L458.45,349.45L457.95,350.39L457.45,351.34L456.96,352.28L456.48,353.23L456.00,354.19L455.54,355.14L455.08,356.09L454.63,357.05L454.19,358.00L453.75,358.96L453.32,359.92L452.90,360.87L452.49,361.83L452.08,362.79L451.67,363.75L451.28,364.71L450.88,365.67L450.50,366.63L450.11,367.59L449.74,368.55L449.36,369.51L448.99,370.48L448.63,371.44L448.27,372.41L447.91,373.37L447.55,374.34L447.20,375.30L446.85,376.27L446.50,377.24L446.16,378.21L445.82,379.17L445.47,380.14L445.13,381.11L444.79,382.09L444.45,383.06L444.12,384.03L443.78,385.00L443.44,385.98L443.10,386.95L442.76,387.93L442.42,388.90L442.08,389.88L441.74,390.86L441.40,391.84L441.05,392.82L440.71,393.80L440.36,394.78L440.00,395.76L439.65,396.74L439.29,397.73L438.93,398.71L438.56,399.70L438.20,400.68L437.82,401.67L437.45,402.66L437.06,403.65L436.68,404.64L436.29,405.63L435.89,406.62L435.49,407.61L435.07,408.59L434.64,409.57L434.19,410.52L433.71,411.45L433.20,412.34L432.66,413.20L432.07,414.02L431.44,414.79L430.76,415.50L430.03,416.15L429.24,416.73L428.38,417.24L427.45,417.67L426.45,418.01L425.37,418.26L424.20,418.41Z" fill="#e5e5e5" stroke="none"/>
<line x1="416" y1="418.50" x2="685" y2="418.50" stroke="#000" stroke-opacity="0.065" stroke-width="1"/>
<line x1="416" y1="361.23" x2="685" y2="361.23" stroke="#000" stroke-opacity="0.065" stroke-width="1"/>
<line x1="416" y1="303.96" x2="685" y2="303.96" stroke="#000" stroke-opacity="0.065" stroke-width="1"/>
<line x1="416" y1="246.69" x2="685" y2="246.69" stroke="#000" stroke-opacity="0.065" stroke-width="1"/>
<line x1="416" y1="189.42" x2="685" y2="189.42" stroke="#000" stroke-opacity="0.065" stroke-width="1"/>
<line x1="416" y1="132.15" x2="685" y2="132.15" stroke="#000" stroke-opacity="0.065" stroke-width="1"/>
<line x1="416" y1="74.88" x2="685" y2="74.88" stroke="#000" stroke-opacity="0.065" stroke-width="1"/>
<line x1="416" y1="17.61" x2="685" y2="17.61" stroke="#000" stroke-opacity="0.065" stroke-width="1"/>
<path d="M424.21,418.41L425.46,417.04L426.55,415.59L427.51,414.05L428.33,412.44L429.05,410.77L429.67,409.05L430.22,407.29L430.70,405.51L431.14,403.71L431.55,401.90L431.93,400.08L432.28,398.26L432.61,396.43L432.92,394.60L433.22,392.76L433.50,390.92L433.77,389.08L434.04,387.23L434.31,385.39L434.58,383.55L434.84,381.70L435.11,379.86L435.37,378.02L435.63,376.18L435.89,374.33L436.15,372.49L436.41,370.65L436.66,368.81L436.92,366.96L437.17,365.12L437.42,363.28L437.67,361.44L437.92,359.59L438.17,357.75L438.42,355.91L438.66,354.07L438.91,352.23L439.16,350.38L439.40,348.54L439.64,346.70L439.88,344.86L440.12,343.02L440.36,341.17L440.60,339.33L440.84,337.49L441.08,335.65L441.32,333.81L441.55,331.97L441.79,330.13L442.02,328.28L442.26,326.44L442.49,324.60L442.72,322.76L442.95,320.92L443.18,319.08L443.42,317.24L443.65,315.40L443.88,313.56L444.11,311.72L444.33,309.88L444.56,308.04L444.79,306.20L445.02,304.36L445.25,302.52L445.47,300.68L445.70,298.84L445.93,297.00L446.15,295.16L446.38,293.32L446.61,291.48L446.83,289.64L447.06,287.80L447.29,285.96L447.51,284.12L447.74,282.29L447.97,280.45L448.19,278.61L448.42,276.77L448.65,274.93L448.88,273.09L449.11,271.26L449.34,269.42L449.57,267.58L449.80,265.74L450.03,263.90L450.26,262.07L450.50,260.23L450.73,258.39L450.97,256.56L451.20,254.72L451.44,252.88L451.68,251.05L451.92,249.21L452.16,247.37L452.41,245.54L452.65,243.70L452.90,241.87L453.14,240.03L453.39,238.20L453.64,236.36L453.89,234.53L454.15,232.69L454.40,230.86L454.66,229.02L454.92,227.19L455.18,225.35L455.45,223.52L455.71,221.69L455.98,219.85L456.25,218.02L456.52,216.19L456.80,214.35L457.07,212.52L457.35,210.69L457.63,208.86L457.92,207.03L458.21,205.19L458.50,203.36L458.79,201.53L459.08,199.70L459.38,197.87L459.68,196.04L459.99,194.21L460.29,192.38L460.60,190.55L460.92,188.72L461.23,186.89L461.55,185.06L461.88,183.23L462.20,181.40L462.53,179.58L462.87,177.75L463.20,175.92L463.54,174.09L463.89,172.27L464.24,170.44L464.59,168.61L464.94,166.79L465.30,164.96L465.66,163.13L466.03,161.31L466.40,159.48L466.78,157.66L467.16,155.83L467.54,154.01L467.93,152.19L468.32,150.36L468.72,148.54L469.12,146.71L469.53,144.89L469.94,143.07L470.35,141.25L470.77,139.42L471.20,137.60L471.63,135.78L472.06,133.96L472.50,132.14L472.95,130.33L473.40,128.51L473.87,126.70L474.33,124.88L474.81,123.08L475.30,121.27L475.79,119.47L476.30,117.67L476.82,115.87L477.34,114.08L477.88,112.29L478.43,110.51L478.99,108.73L479.56,106.96L480.14,105.20L480.74,103.44L481.35,101.68L481.98,99.93L482.62,98.19L483.27,96.46L483.94,94.73L484.63,93.02L485.33,91.30L486.05,89.60L486.79,87.91L487.54,86.22L488.31,84.55L489.10,82.88L489.91,81.23L490.74,79.58L491.59,77.94L492.46,76.32L493.35,74.70L494.26,73.10L495.19,71.51L496.14,69.93L497.12,68.36L498.12,66.81L499.14,65.26L500.19,63.73L501.26,62.22L502.36,60.72L503.48,59.23L504.62,57.76L505.79,56.31L506.99,54.88L508.21,53.47L509.45,52.08L510.72,50.72L512.02,49.38L513.34,48.07L514.68,46.79L516.05,45.54L517.44,44.33L518.86,43.14L520.31,42.00L521.77,40.89L523.27,39.81L524.79,38.78L526.33,37.79L527.90,36.84L529.49,35.94L531.11,35.08L532.76,34.27L534.43,33.50L536.12,32.79L537.84,32.13L539.59,31.52L541.35,30.96L543.14,30.45L544.94,29.97L546.76,29.54L548.60,29.15L550.45,28.80L552.31,28.48L554.18,28.19L556.05,27.94L557.94,27.71L559.82,27.51L561.71,27.34L563.60,27.18L565.49,27.05L567.38,26.93L569.26,26.83L571.14,26.75L573.02,26.68L574.89,26.63L576.76,26.59L578.62,26.56L580.48,26.55L582.34,26.55L584.19,26.57L586.05,26.60L587.90,26.64L589.74,26.69L591.59,26.76L593.43,26.84L595.27,26.93L597.11,27.04L598.95,27.15L600.79,27.28L602.63,27.41L604.46,27.56L606.30,27.72L608.13,27.89L609.96,28.06L611.80,28.25L613.63,28.45L615.47,28.65L617.30,28.87L619.14,29.09L620.97,29.32L622.81,29.56L624.65,29.81L626.49,30.06L628.33,30.32L630.17,30.59L632.02,30.86L633.86,31.14L635.71,31.43L637.56,31.72L639.40,32.02L641.25,32.33L643.09,32.64L644.94,32.96L646.78,33.28L648.62,33.61L650.46,33.94L652.30,34.28L654.14,34.62L655.97,34.96L657.80,35.32L659.63,35.67L661.45,36.03L663.27,36.39L665.09,36.76L666.90,37.13L668.70,37.50L670.51,37.88L672.30,38.26L674.09,38.64L675.88,39.03" fill="none" stroke="#cecece" stroke-width="1"/>
<path d="M424.20,418.41L425.37,418.26L426.45,418.01L427.45,417.67L428.38,417.24L429.24,416.73L430.03,416.15L430.76,415.50L431.44,414.79L432.07,414.02L432.66,413.20L433.20,412.34L433.71,411.45L434.19,410.52L434.64,409.57L435.07,408.59L435.49,407.61L435.89,406.62L436.29,405.63L436.68,404.64L437.06,403.65L437.45,402.66L437.82,401.67L438.20,400.68L438.56,399.70L438.93,398.71L439.29,397.73L439.65,396.74L440.00,395.76L440.36,394.78L440.71,393.80L441.05,392.82L441.40,391.84L441.74,390.86L442.08,389.88L442.42,388.90L442.76,387.93L443.10,386.95L443.44,385.98L443.78,385.00L444.12,384.03L444.45,383.06L444.79,382.09L445.13,381.11L445.47,380.14L445.82,379.17L446.16,378.21L446.50,377.24L446.85,376.27L447.20,375.30L447.55,374.34L447.91,373.37L448.27,372.41L448.63,371.44L448.99,370.48L449.36,369.51L449.74,368.55L450.11,367.59L450.50,366.63L450.88,365.67L451.28,364.71L451.67,363.75L452.08,362.79L452.49,361.83L452.90,360.87L453.32,359.92L453.75,358.96L454.19,358.00L454.63,357.05L455.08,356.09L455.54,355.14L456.00,354.19L456.48,353.23L456.96,352.28L457.45,351.34L457.95,350.39L458.45,349.45L458.97,348.51L459.49,347.57L460.03,346.64L460.57,345.72L461.12,344.80L461.68,343.88L462.25,342.98L462.82,342.08L463.41,341.18L464.01,340.30L464.62,339.42L465.23,338.55L465.86,337.69L466.50,336.84L467.14,336.00L467.80,335.17L468.47,334.35L469.15,333.54L469.83,332.75L470.53,331.97L471.24,331.20L471.96,330.44L472.70,329.70L473.44,328.97L474.19,328.25L474.96,327.56L475.74,326.87L476.53,326.21L477.33,325.56L478.14,324.92L478.96,324.31L479.80,323.71L480.64,323.12L481.50,322.56L482.37,322.00L483.24,321.47L484.13,320.95L485.03,320.44L485.93,319.95L486.84,319.47L487.76,319.00L488.69,318.55L489.63,318.11L490.57,317.68L491.52,317.27L492.47,316.86L493.43,316.47L494.40,316.09L495.37,315.72L496.34,315.35L497.32,315.00L498.31,314.66L499.29,314.33L500.28,314.01L501.28,313.69L502.27,313.38L503.27,313.08L504.27,312.79L505.27,312.50L506.27,312.23L507.27,311.95L508.28,311.69L509.28,311.43L510.29,311.18L511.29,310.93L512.30,310.70L513.31,310.46L514.32,310.24L515.34,310.02L516.35,309.81L517.36,309.60L518.38,309.40L519.40,309.20L520.42,309.02L521.43,308.83L522.45,308.66L523.48,308.49L524.50,308.32L525.52,308.16L526.54,308.01L527.57,307.86L528.59,307.72L529.62,307.58L530.65,307.45L531.68,307.32L532.71,307.20L533.74,307.09L534.77,306.97L535.80,306.87L536.83,306.77L537.87,306.67L538.90,306.58L539.94,306.50L540.97,306.42L542.01,306.34L543.05,306.27L544.09,306.20L545.13,306.14L546.17,306.08L547.21,306.03L548.25,305.98L549.29,305.94L550.33,305.90L551.38,305.86L552.42,305.83L553.46,305.80L554.51,305.78L555.55,305.76L556.60,305.74L557.65,305.73L558.69,305.72L559.74,305.72L560.79,305.72L561.84,305.72L562.89,305.73L563.93,305.74L564.98,305.75L566.03,305.77L567.09,305.78L568.14,305.81L569.19,305.83L570.24,305.86L571.29,305.90L572.34,305.93L573.40,305.97L574.45,306.01L575.50,306.05L576.56,306.10L577.61,306.15L578.66,306.20L579.72,306.26L580.77,306.31L581.83,306.37L582.88,306.43L583.94,306.50L584.99,306.56L586.05,306.63L587.10,306.70L588.16,306.78L589.21,306.85L590.27,306.93L591.32,307.01L592.38,307.09L593.43,307.17L594.49,307.25L595.54,307.34L596.60,307.42L597.66,307.51L598.71,307.60L599.77,307.69L600.82,307.79L601.88,307.88L602.93,307.97L603.99,308.07L605.04,308.17L606.10,308.27L607.15,308.37L608.20,308.47L609.26,308.57L610.31,308.67L611.37,308.77L612.42,308.87L613.47,308.98L614.52,309.08L615.58,309.19L616.63,309.29L617.68,309.40L618.73,309.50L619.78,309.61L620.83,309.72L621.89,309.82L622.94,309.93L623.98,310.03L625.03,310.14L626.08,310.25L627.13,310.35L628.18,310.46L629.23,310.56L630.27,310.67L631.32,310.77L632.36,310.88L633.41,310.98L634.45,311.08L635.50,311.19L636.54,311.29L637.58,311.39L638.63,311.49L639.67,311.59L640.71,311.68L641.75,311.78L642.79,311.88L643.83,311.97L644.86,312.06L645.90,312.16L646.94,312.25L647.97,312.34L649.01,312.42L650.04,312.51L651.08,312.59L652.11,312.68L653.14,312.76L654.17,312.84L655.20,312.92L656.23,312.99L657.26,313.06L658.29,313.14L659.31,313.21L660.34,313.27L661.36,313.34L662.39,313.40L663.41,313.46L664.43,313.52L665.45,313.57L666.47,313.63L667.49,313.68L668.51,313.73L669.52,313.77L670.54,313.81L671.55,313.85L672.57,313.89L673.58,313.92L674.59,313.95L675.60,313.98" fill="none" stroke="#cecece" stroke-width="1"/>
<line x1="675.9" y1="39.1" x2="675.9" y2="314.4" stroke="#cecece" stroke-width="1"/>
<path d="M424.21,418.41L425.41,417.65L426.48,416.79L427.45,415.84L428.33,414.80L429.11,413.70L429.81,412.53L430.45,411.31L431.02,410.04L431.54,408.73L432.02,407.40L432.47,406.04L432.90,404.67L433.31,403.30L433.71,401.92L434.09,400.54L434.45,399.15L434.81,397.76L435.15,396.36L435.47,394.96L435.79,393.55L436.09,392.14L436.39,390.73L436.67,389.31L436.94,387.89L437.21,386.47L437.46,385.04L437.71,383.62L437.95,382.19L438.18,380.75L438.41,379.32L438.63,377.89L438.84,376.45L439.05,375.01L439.26,373.58L439.46,372.14L439.67,370.70L439.86,369.26L440.06,367.82L440.26,366.38L440.45,364.95L440.65,363.51L440.84,362.07L441.04,360.64L441.24,359.21L441.43,357.78L441.64,356.35L441.84,354.92L442.04,353.49L442.25,352.07L442.46,350.64L442.67,349.22L442.88,347.80L443.09,346.38L443.31,344.96L443.53,343.54L443.75,342.13L443.97,340.72L444.20,339.30L444.42,337.89L444.65,336.48L444.89,335.07L445.12,333.66L445.36,332.26L445.60,330.85L445.84,329.45L446.08,328.04L446.33,326.64L446.58,325.24L446.83,323.84L447.09,322.44L447.34,321.05L447.61,319.65L447.87,318.25L448.14,316.86L448.41,315.47L448.68,314.07L448.96,312.68L449.24,311.29L449.52,309.90L449.80,308.51L450.09,307.13L450.39,305.74L450.68,304.36L450.98,302.97L451.29,301.59L451.59,300.20L451.90,298.82L452.22,297.44L452.53,296.06L452.86,294.68L453.18,293.30L453.51,291.92L453.84,290.54L454.18,289.17L454.52,287.79L454.87,286.42L455.22,285.04L455.57,283.67L455.93,282.29L456.29,280.92L456.66,279.55L457.03,278.18L457.40,276.81L457.78,275.43L458.16,274.06L458.55,272.70L458.95,271.33L459.34,269.96L459.75,268.59L460.15,267.22L460.57,265.86L460.98,264.49L461.40,263.12L461.83,261.76L462.26,260.39L462.70,259.03L463.14,257.66L463.59,256.30L464.04,254.93L464.50,253.57L464.96,252.20L465.43,250.84L465.90,249.48L466.38,248.12L466.86,246.75L467.35,245.39L467.85,244.03L468.35,242.67L468.85,241.30L469.37,239.94L469.88,238.58L470.41,237.22L470.94,235.86L471.48,234.50L472.02,233.15L472.57,231.80L473.13,230.45L473.70,229.10L474.28,227.76L474.86,226.42L475.45,225.09L476.06,223.76L476.67,222.44L477.29,221.13L477.93,219.82L478.57,218.52L479.23,217.23L479.89,215.95L480.57,214.67L481.26,213.41L481.96,212.15L482.67,210.91L483.40,209.68L484.14,208.45L484.90,207.24L485.66,206.05L486.45,204.86L487.24,203.69L488.05,202.53L488.88,201.39L489.72,200.26L490.58,199.14L491.45,198.05L492.34,196.96L493.25,195.90L494.17,194.85L495.11,193.82L496.07,192.81L497.05,191.81L498.04,190.84L499.05,189.88L500.09,188.95L501.14,188.03L502.21,187.14L503.30,186.27L504.41,185.42L505.53,184.58L506.68,183.77L507.84,182.98L509.02,182.21L510.21,181.47L511.42,180.74L512.65,180.03L513.89,179.34L515.14,178.67L516.40,178.02L517.68,177.38L518.97,176.77L520.28,176.18L521.59,175.61L522.91,175.05L524.24,174.51L525.59,173.99L526.94,173.49L528.30,173.01L529.66,172.55L531.04,172.10L532.42,171.68L533.80,171.26L535.19,170.87L536.59,170.50L537.99,170.14L539.39,169.80L540.80,169.47L542.21,169.16L543.62,168.87L545.04,168.60L546.45,168.34L547.86,168.10L549.28,167.87L550.70,167.66L552.12,167.46L553.54,167.28L554.96,167.11L556.38,166.95L557.80,166.81L559.23,166.69L560.65,166.57L562.07,166.47L563.50,166.38L564.93,166.31L566.35,166.24L567.78,166.19L569.21,166.14L570.64,166.11L572.07,166.09L573.50,166.08L574.93,166.08L576.36,166.09L577.79,166.10L579.22,166.13L580.65,166.16L582.08,166.21L583.51,166.26L584.94,166.31L586.38,166.38L587.81,166.45L589.24,166.53L590.67,166.62L592.10,166.71L593.53,166.81L594.97,166.91L596.40,167.02L597.83,167.13L599.26,167.25L600.69,167.37L602.12,167.49L603.55,167.62L604.98,167.75L606.40,167.88L607.83,168.02L609.26,168.16L610.69,168.30L612.11,168.44L613.54,168.59L614.96,168.73L616.39,168.88L617.81,169.02L619.23,169.17L620.65,169.31L622.07,169.46L623.49,169.61L624.91,169.76L626.33,169.91L627.75,170.06L629.17,170.21L630.59,170.36L632.00,170.52L633.42,170.67L634.84,170.83L636.25,170.99L637.67,171.15L639.08,171.32L640.50,171.48L641.91,171.65L643.33,171.82L644.74,172.00L646.16,172.17L647.57,172.35L648.99,172.54L650.40,172.72L651.82,172.91L653.23,173.10L654.65,173.30L656.06,173.50L657.48,173.70L658.89,173.91L660.31,174.12L661.72,174.33L663.14,174.55L664.56,174.77L665.98,175.00L667.39,175.23L668.81,175.47L670.23,175.71L671.65,175.95L673.07,176.21L674.49,176.46L675.91,176.72" fill="none" stroke="#231f20" stroke-width="1.4" stroke-dasharray="4.2 3.8"/>
<path d="M415.5,8.8V427.4H685" fill="none" stroke="#4d4d4d" stroke-width="1.1" stroke-linejoin="round"/>
<line x1="410" y1="418.50" x2="415.5" y2="418.50" stroke="#4d4d4d" stroke-width="1.1"/>
<text x="404.7" y="422.90" font-size="13.3" text-anchor="end">0.00</text>
<line x1="410" y1="361.23" x2="415.5" y2="361.23" stroke="#4d4d4d" stroke-width="1.1"/>
<text x="404.7" y="365.63" font-size="13.3" text-anchor="end">0.02</text>
<line x1="410" y1="303.96" x2="415.5" y2="303.96" stroke="#4d4d4d" stroke-width="1.1"/>
<text x="404.7" y="308.36" font-size="13.3" text-anchor="end">0.04</text>
<line x1="410" y1="246.69" x2="415.5" y2="246.69" stroke="#4d4d4d" stroke-width="1.1"/>
<text x="404.7" y="251.09" font-size="13.3" text-anchor="end">0.06</text>
<line x1="410" y1="189.42" x2="415.5" y2="189.42" stroke="#4d4d4d" stroke-width="1.1"/>
<text x="404.7" y="193.82" font-size="13.3" text-anchor="end">0.08</text>
<line x1="410" y1="132.15" x2="415.5" y2="132.15" stroke="#4d4d4d" stroke-width="1.1"/>
<text x="404.7" y="136.55" font-size="13.3" text-anchor="end">0.10</text>
<line x1="410" y1="74.88" x2="415.5" y2="74.88" stroke="#4d4d4d" stroke-width="1.1"/>
<text x="404.7" y="79.28" font-size="13.3" text-anchor="end">0.12</text>
<line x1="410" y1="17.61" x2="415.5" y2="17.61" stroke="#4d4d4d" stroke-width="1.1"/>
<text x="404.7" y="22.01" font-size="13.3" text-anchor="end">0.14</text>
<line x1="424.40" y1="427.4" x2="424.40" y2="432.8" stroke="#4d4d4d" stroke-width="1.1"/>
<text x="424.40" y="448.2" font-size="13.3" text-anchor="middle">0</text>
<line x1="474.78" y1="427.4" x2="474.78" y2="432.8" stroke="#4d4d4d" stroke-width="1.1"/>
<text x="474.78" y="448.2" font-size="13.3" text-anchor="middle">2</text>
<line x1="525.16" y1="427.4" x2="525.16" y2="432.8" stroke="#4d4d4d" stroke-width="1.1"/>
<text x="525.16" y="448.2" font-size="13.3" text-anchor="middle">4</text>
<line x1="575.54" y1="427.4" x2="575.54" y2="432.8" stroke="#4d4d4d" stroke-width="1.1"/>
<text x="575.54" y="448.2" font-size="13.3" text-anchor="middle">6</text>
<line x1="625.92" y1="427.4" x2="625.92" y2="432.8" stroke="#4d4d4d" stroke-width="1.1"/>
<text x="625.92" y="448.2" font-size="13.3" text-anchor="middle">8</text>
<line x1="676.30" y1="427.4" x2="676.30" y2="432.8" stroke="#4d4d4d" stroke-width="1.1"/>
<text x="676.30" y="448.2" font-size="13.3" text-anchor="middle">10</text>
<text x="550.4" y="466.8" font-size="13.45" text-anchor="middle">Years from surgery</text>
<text transform="translate(367.2,217.5) rotate(-90)" font-size="13.3" text-anchor="middle">Difference in survival probabilities</text>
<text transform="translate(356.2,13.8) scale(0.95,1)" font-size="19.2" font-weight="bold">b</text>
</svg></body></html>
